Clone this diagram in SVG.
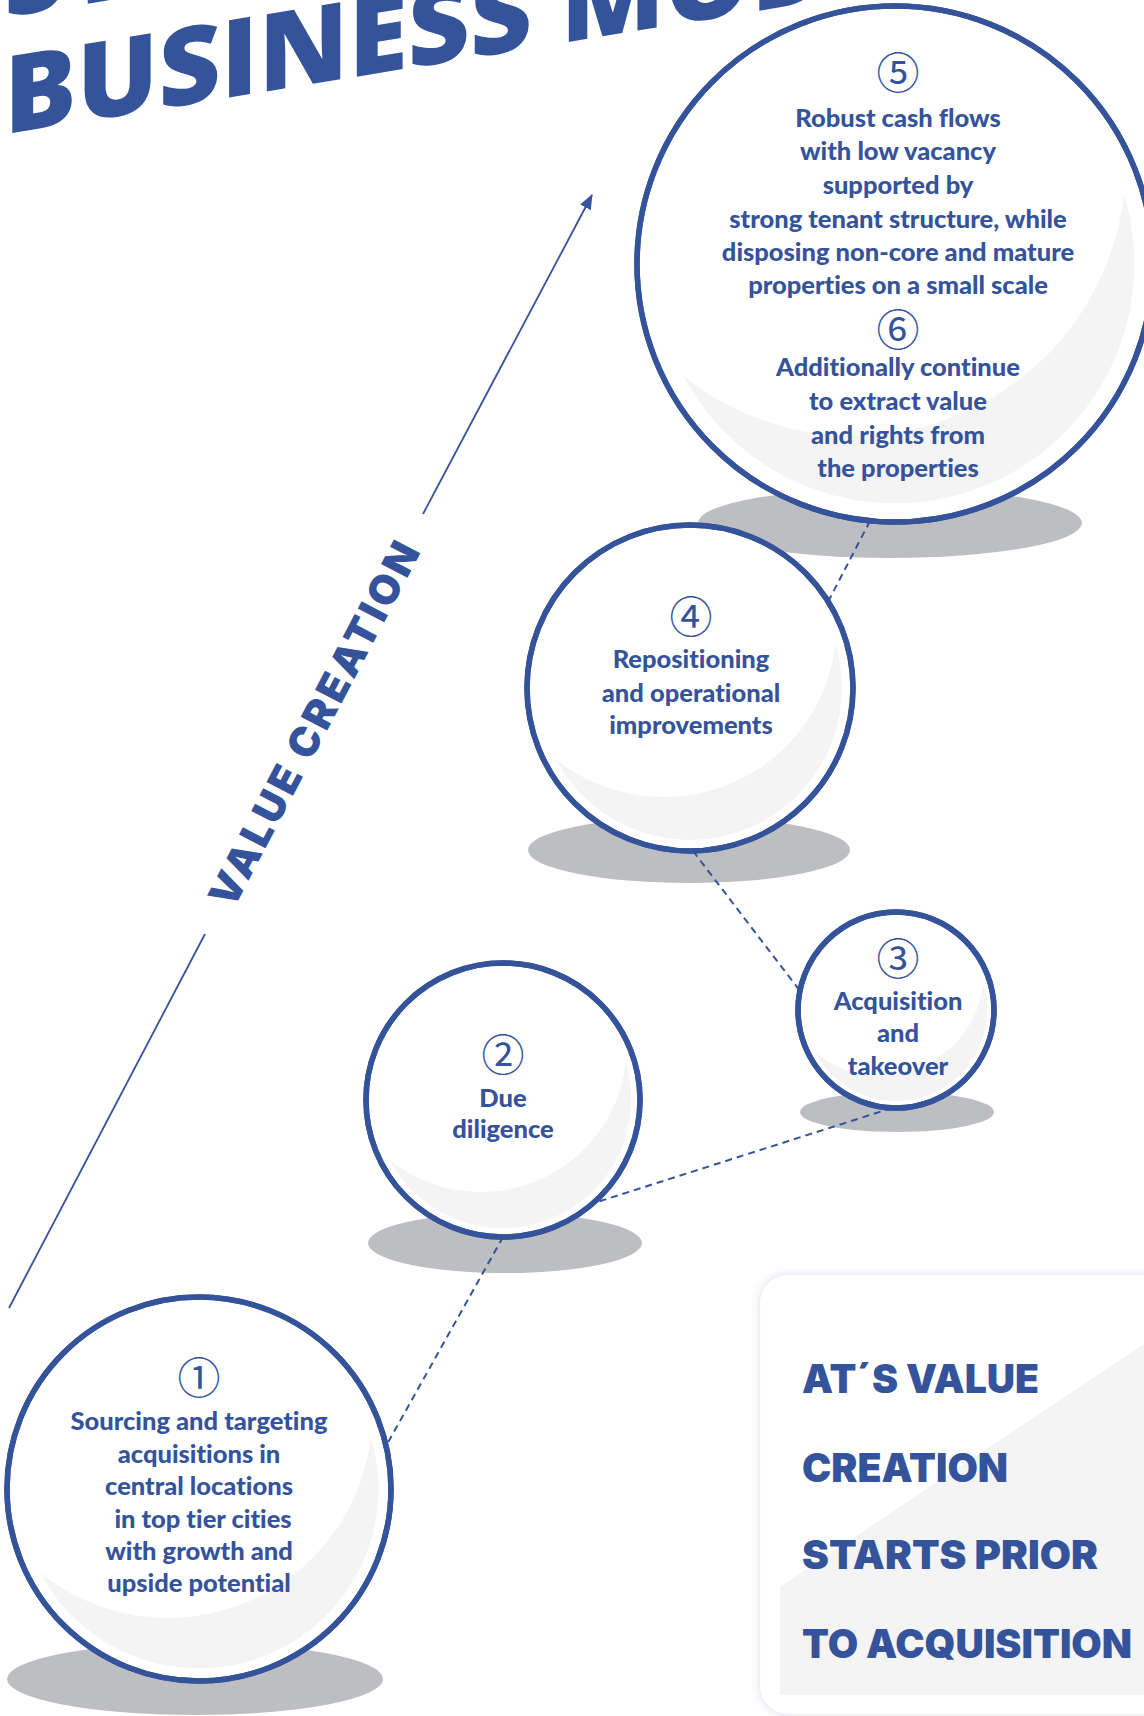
<svg xmlns="http://www.w3.org/2000/svg" xmlns:xlink="http://www.w3.org/1999/xlink" width="1144" height="1716" viewBox="0 0 1144 1716">
<style>
.title{font-family:"Open Sans","Liberation Sans",sans-serif;font-weight:800;font-size:108px;fill:#34539b}
.ring{fill:#fff;stroke:#34539b;stroke-width:5.5}
.shadow{fill:#bdbec1}
.cres{fill:#f4f4f5}
.num{font-family:"Noto Sans CJK JP","DejaVu Sans",sans-serif;font-size:43px;fill:#34539b;text-anchor:middle}
.lbl{font-family:Lato,"Liberation Sans",sans-serif;font-weight:900;font-size:25.5px;fill:#34539b;text-anchor:middle;font-variant-ligatures:none;font-feature-settings:"liga" 0,"clig" 0}
.dash{fill:none;stroke:#34539b;stroke-width:2;stroke-dasharray:7 5}
.axis{fill:none;stroke:#34539b;stroke-width:1.8}
.heavy{font-family:Inter,Roboto,"Liberation Sans",sans-serif;font-weight:900;fill:#34539b}
</style>
<defs>
<path id="crescent" d="M90.9,-27.6 A95,95 0 0 1 -83.94,44.47 A108,108 0 0 0 90.9,-27.6 Z"/>
<marker id="arrow" markerUnits="userSpaceOnUse" markerWidth="16" markerHeight="14" refX="14" refY="6" orient="auto">
<path d="M0,0 L15,6 L0,12 Z" fill="#34539b"/>
</marker>
<filter id="boxshadow" x="-10%" y="-10%" width="120%" height="120%">
<feDropShadow dx="0" dy="0" stdDeviation="5" flood-color="#c9cee0" flood-opacity="0.7"/>
</filter>
</defs>
<rect width="1144" height="1716" fill="#fff"/>

<g id="title">
<g transform="skewY(-9.3)">
<text class="title" x="4" y="18">ST</text>
<text class="title" x="4" y="135">BUSINESS MODEL</text>
</g>
</g>

<g id="value-axis">
<line class="axis" x1="9" y1="1308" x2="205" y2="934"/>
<line class="axis" x1="423" y1="514" x2="592" y2="195" marker-end="url(#arrow)"/>
<text class="heavy" font-size="41" text-anchor="middle" dy="0.36em" textLength="405" lengthAdjust="spacing" transform="translate(314,724) rotate(-62.3)">VALUE CREATION</text>
</g>

<g id="node5">
<ellipse class="shadow" cx="890" cy="523" rx="192" ry="35"/>
<circle class="ring" cx="895" cy="264" r="258"/>
<use xlink:href="#crescent" class="cres" transform="translate(895,264) scale(2.52)"/>
<circle cx="895" cy="264" r="258" fill="none" stroke="#34539b" stroke-width="5.5"/>
<text class="num" x="898" y="89">⑤</text>
<text class="lbl" x="898" y="127">Robust cash flows</text>
<text class="lbl" x="898" y="160">with low vacancy</text>
<text class="lbl" x="898" y="194">supported by</text>
<text class="lbl" x="898" y="228">strong tenant structure, while</text>
<text class="lbl" x="898" y="261">disposing non-core and mature</text>
<text class="lbl" x="898" y="294">properties on a small scale</text>
<text class="num" x="898" y="346">⑥</text>
<text class="lbl" x="898" y="376">Additionally continue</text>
<text class="lbl" x="898" y="410">to extract value</text>
<text class="lbl" x="898" y="444">and rights from</text>
<text class="lbl" x="898" y="477">the properties</text>
</g>

<g id="node4">
<ellipse class="shadow" cx="689" cy="850" rx="161" ry="33"/>
<circle class="ring" cx="690" cy="688" r="163"/>
<use xlink:href="#crescent" class="cres" transform="translate(690,688) scale(1.6)"/>
<circle cx="690" cy="688" r="163" fill="none" stroke="#34539b" stroke-width="5.5"/>
<text class="num" x="691" y="633">④</text>
<text class="lbl" x="691" y="668">Repositioning</text>
<text class="lbl" x="691" y="702">and operational</text>
<text class="lbl" x="691" y="734">improvements</text>
</g>

<g id="node3">
<ellipse class="shadow" cx="897" cy="1112" rx="97" ry="20"/>
<circle class="ring" cx="896" cy="1010" r="98"/>
<use xlink:href="#crescent" class="cres" transform="translate(896,1010) scale(0.96)"/>
<circle cx="896" cy="1010" r="98" fill="none" stroke="#34539b" stroke-width="5.5"/>
<text class="num" x="898" y="975">③</text>
<text class="lbl" x="898" y="1010">Acquisition</text>
<text class="lbl" x="898" y="1042">and</text>
<text class="lbl" x="898" y="1075">takeover</text>
</g>

<g id="node2">
<ellipse class="shadow" cx="505" cy="1243" rx="137" ry="30"/>
<circle class="ring" cx="503" cy="1100" r="137"/>
<use xlink:href="#crescent" class="cres" transform="translate(503,1100) scale(1.35)"/>
<circle cx="503" cy="1100" r="137" fill="none" stroke="#34539b" stroke-width="5.5"/>
<text class="num" x="503" y="1071">②</text>
<text class="lbl" x="503" y="1107">Due</text>
<text class="lbl" x="503" y="1138">diligence</text>
</g>

<g id="node1">
<ellipse class="shadow" cx="195" cy="1679" rx="188" ry="36"/>
<circle class="ring" cx="199" cy="1489" r="192"/>
<use xlink:href="#crescent" class="cres" transform="translate(199,1489) scale(1.89)"/>
<circle cx="199" cy="1489" r="192" fill="none" stroke="#34539b" stroke-width="5.5"/>
<text class="num" x="199" y="1394">①</text>
<text class="lbl" x="199" y="1430">Sourcing and targeting</text>
<text class="lbl" x="199" y="1463">acquisitions in</text>
<text class="lbl" x="199" y="1495">central locations</text>
<text class="lbl" x="203" y="1528">in top tier cities</text>
<text class="lbl" x="199" y="1560">with growth and</text>
<text class="lbl" x="199" y="1592">upside potential</text>
</g>

<g id="connectors">
<line class="dash" x1="870" y1="521" x2="829" y2="600"/>
<line class="dash" x1="693" y1="851" x2="800" y2="991"/>
<line class="dash" x1="892" y1="1108" x2="591" y2="1204"/>
<line class="dash" x1="503" y1="1237" x2="386" y2="1446"/>
</g>

<g id="callout">
<rect x="760" y="1275" width="430" height="439" rx="28" fill="#fff" filter="url(#boxshadow)"/>
<polygon points="780,1587 1144,1344 1144,1695 780,1695" fill="#f4f4f5"/>
<text class="heavy" font-size="40" x="802" y="1393" textLength="237" lengthAdjust="spacingAndGlyphs">AT´S VALUE</text>
<text class="heavy" font-size="40" x="802" y="1482" textLength="206" lengthAdjust="spacingAndGlyphs">CREATION</text>
<text class="heavy" font-size="40" x="802" y="1569" textLength="296" lengthAdjust="spacingAndGlyphs">STARTS PRIOR</text>
<text class="heavy" font-size="40" x="802" y="1658" textLength="330" lengthAdjust="spacingAndGlyphs">TO ACQUISITION</text>
</g>
</svg>
